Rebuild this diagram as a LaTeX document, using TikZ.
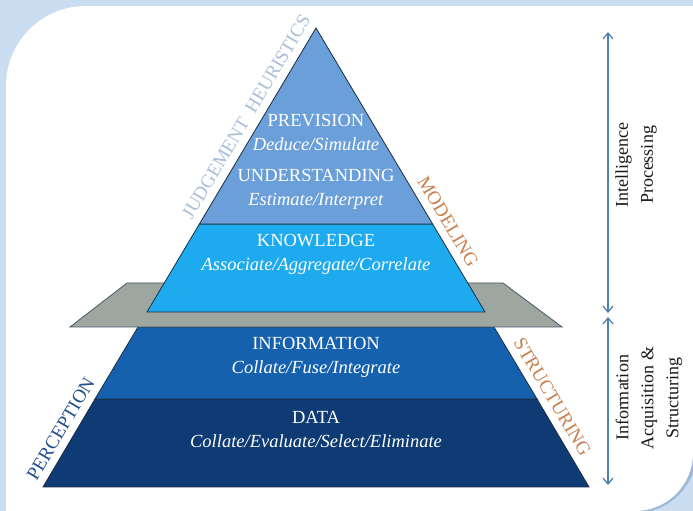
\documentclass[tikz,border=0pt]{standalone}
\usepackage{fontspec}
\setmainfont{Liberation Serif}
\usetikzlibrary{arrows.meta}

\definecolor{pagebg}{HTML}{CBDDF0}
\definecolor{pageshadow}{HTML}{9DB9D8}
\definecolor{topblue}{HTML}{6A9FD9}
\definecolor{knowblue}{HTML}{1EAAEE}
\definecolor{infoblue}{HTML}{1561AD}
\definecolor{datablue}{HTML}{0E3B73}
\definecolor{plategray}{HTML}{9DA7A0}
\definecolor{edgedark}{HTML}{1C2D40}
\definecolor{heurblue}{HTML}{A9BFD9}
\definecolor{modelbrown}{HTML}{C8804F}
\definecolor{percblue}{HTML}{22508F}
\definecolor{arrowblue}{HTML}{4F7FAE}

\begin{document}
\begin{tikzpicture}[x=1pt,y=1pt,
    layer/.style={draw=edgedark, line width=0.8pt},
    layertext/.style={text=white, align=center, font=\fontsize{18.5}{24}\selectfont},
    sidetext/.style={font=\fontsize{19}{19}\selectfont, sloped, above=7pt, inner sep=1pt},
    sidenote/.style={rotate=90, align=center, text=black!90, font=\fontsize{18}{25}\selectfont},
    procarrow/.style={draw=arrowblue, line width=1.2pt,
        {Straight Barb[length=6pt,width=10pt]}-{Straight Barb[length=6pt,width=10pt]}}]
    \useasboundingbox (0,0) rectangle (693,511);

    % page
    \fill[pagebg] (0,0) rectangle (693,511);
    \draw[pageshadow, line width=4pt] (695,60) arc[start angle=0, end angle=-90, radius=60];
    \fill[white] (6,0) -- (6,425) arc[start angle=180, end angle=90, radius=80]
        -- (693,505) -- (693,58) arc[start angle=0, end angle=-90, radius=58] -- cycle;

    % pyramid corners
    \coordinate (apex) at (316,483);
    \coordinate (baseL) at (43,24);
    \coordinate (baseR) at (589,24);
    \coordinate (undL) at (199.4,287);
    \coordinate (undR) at (432.6,287);
    \coordinate (knowL) at (147,199);
    \coordinate (knowR) at (485,199);
    \coordinate (infoL) at (138,184);
    \coordinate (infoR) at (494,184);
    \coordinate (dataL) at (95,112);
    \coordinate (dataR) at (537,112);

    % lower pyramid
    \filldraw[layer, fill=datablue] (dataL) -- (dataR) -- (baseR) -- (baseL) -- cycle;
    \filldraw[layer, fill=infoblue] (infoL) -- (infoR) -- (dataR) -- (dataL) -- cycle;

    % plate
    \filldraw[draw=edgedark!80, line width=0.8pt, fill=plategray]
        (127,228) -- (503,228) -- (562,184) -- (70,184) -- cycle;

    % upper pyramid
    \filldraw[layer, fill=knowblue] (undL) -- (undR) -- (knowR) -- (knowL) -- cycle;
    \filldraw[layer, fill=topblue] (apex) -- (undR) -- (undL) -- cycle;

    \node[layertext] (prevision) at (316,379) {PREVISION\\\textit{Deduce/Simulate}};
    \node[layertext] (understanding) at (316,321.5) {UNDERSTANDING\\\textit{Estimate/Interpret}};
    \node[layertext] (knowledge) at (316,257) {KNOWLEDGE\\\textit{Associate/Aggregate/Correlate}};
    \node[layertext] (information) at (316,154) {INFORMATION\\\textit{Collate/Fuse/Integrate}};
    \node[layertext] (data) at (316,81) {DATA\\\textit{Collate/Evaluate/Select/Eliminate}};

    % labels along the sides
    \path (baseL) -- (apex)
        node[sidetext, text=heurblue, pos=0.79] (heuristics) {JUDGEMENT\ \ HEURISTICS}
        node[sidetext, text=percblue, pos=0.111] (perception) {PERCEPTION};
    \path (apex) -- (baseR)
        node[sidetext, text=modelbrown, pos=0.438] (modeling) {MODELING}
        node[sidetext, text=modelbrown, pos=0.82] (structuring) {STRUCTURING};

    % processing levels
    \coordinate (procTop) at (608,479);
    \coordinate (procBot) at (608,198);
    \coordinate (acqTop) at (608,194);
    \coordinate (acqBot) at (608,26);
    \draw[procarrow] (procBot) -- (procTop);
    \draw[procarrow] (acqBot) -- (acqTop);
    \node[sidenote] (intelligence) at (636,346) {Intelligence\\Processing};
    \node[sidenote] (acquisition) at (649,113) {Information\\Acquisition \&\\Structuring};
\end{tikzpicture}
\end{document}
